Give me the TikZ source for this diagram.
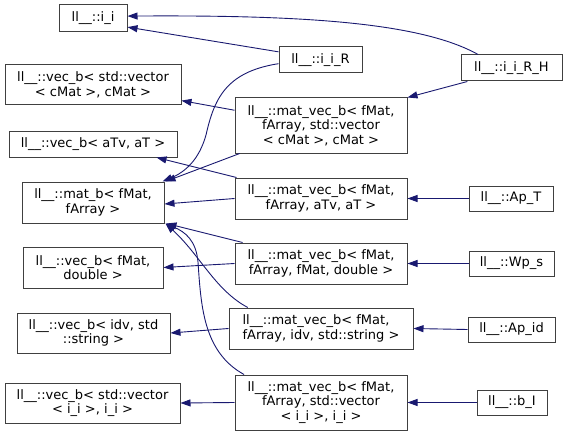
\documentclass[tikz,border=0pt]{standalone}
\usepackage{fontspec}
\setmainfont{DejaVu Sans}
\usetikzlibrary{arrows.meta}
\definecolor{edgecol}{RGB}{25,25,112}
\definecolor{boxcol}{RGB}{64,64,64}
\tikzset{
  cls/.style={draw=boxcol, line width=1pt, fill=white, align=center, inner sep=0pt,
    font=\fontsize{13}{14.5}\selectfont},
  edge/.style={draw=edgecol, line width=0.9pt, -{Triangle[length=10pt,width=7pt]}},
}
\begin{document}
\begin{tikzpicture}[x=1pt,y=-1pt]
\useasboundingbox (0,0) rectangle (568,436);
% left column
\node[cls, minimum width=68pt, minimum height=27pt] (ii) at (93,18.5) {ll\_\_::i\_i};
\node[cls, minimum width=176pt, minimum height=40pt] (vcm) at (93,85) {ll\_\_::vec\_b< std::vector\\< cMat >, cMat >};
\node[cls, minimum width=168pt, minimum height=26pt] (vat) at (93,144) {ll\_\_::vec\_b< aTv, aT >};
\node[cls, minimum width=142pt, minimum height=41pt] (mb) at (93,202.5) {ll\_\_::mat\_b< fMat,\\fArray >};
\node[cls, minimum width=140pt, minimum height=41pt] (vfd) at (93,267.5) {ll\_\_::vec\_b< fMat,\\double >};
\node[cls, minimum width=153pt, minimum height=40pt] (vid) at (93.5,333) {ll\_\_::vec\_b< idv, std\\::string >};
\node[cls, minimum width=175pt, minimum height=40pt] (vii) at (92.5,403) {ll\_\_::vec\_b< std::vector\\< i\_i >, i\_i >};
% middle column
\node[cls, minimum width=83pt, minimum height=26pt] (iiR) at (320.5,60) {ll\_\_::i\_i\_R};
\node[cls, minimum width=172pt, minimum height=55pt] (mcm) at (321,125.5) {ll\_\_::mat\_vec\_b< fMat,\\fArray, std::vector\hspace*{26pt}\\< cMat >, cMat >};
\node[cls, minimum width=172pt, minimum height=41pt] (mat) at (321,198.5) {ll\_\_::mat\_vec\_b< fMat,\\fArray, aTv, aT >};
\node[cls, minimum width=172pt, minimum height=41pt] (mfd) at (321,263.5) {ll\_\_::mat\_vec\_b< fMat,\\fArray, fMat, double >};
\node[cls, minimum width=184pt, minimum height=41pt] (mid) at (321,328.5) {ll\_\_::mat\_vec\_b< fMat,\hspace*{10pt}\\fArray, idv, std::string >};
\node[cls, minimum width=172pt, minimum height=55pt] (mii) at (321,402.5) {ll\_\_::mat\_vec\_b< fMat,\\fArray, std::vector\hspace*{20pt}\\< i\_i >, i\_i >};
% right column
\node[cls, minimum width=101pt, minimum height=26pt] (iiRH) at (511.5,68) {ll\_\_::i\_i\_R\_H};
\node[cls, minimum width=84pt, minimum height=25pt] (apt) at (511,198.5) {ll\_\_::Ap\_T};
\node[cls, minimum width=85pt, minimum height=25pt] (wps) at (511.5,263.5) {ll\_\_::Wp\_s};
\node[cls, minimum width=87pt, minimum height=25pt] (apid) at (511.5,329.5) {ll\_\_::Ap\_id};
\node[cls, minimum width=70pt, minimum height=25pt] (bi) at (512,402.5) {ll\_\_::b\_I};
% edges
\draw[edge] (iiR.169) -- (ii.-14);
\draw[edge] (iiRH.158) .. controls (420,22) and (300,15) .. (ii.4);
\draw[edge] (iiR.185) .. controls (225,72) and (214,100) .. (206,135) .. controls (199,160) and (185,172) .. ([xshift=-2pt]mb.north east);
\draw[edge] (mcm.170) -- (vcm.-10);
\draw[edge] (mcm.199) -- ([xshift=1pt]mb.north east);
\draw[edge] (iiRH.197) -- (mcm.north east);
\draw[edge] ([xshift=2pt]mat.north west) -- (vat.-12);
\draw[edge] (mat.west) -- ([yshift=-1.5pt]mb.east);
\draw[edge] (apt.west) -- (mat.east);
\draw[edge] (mfd.165) -- ([xshift=2pt]mb.south east);
\draw[edge] (mfd.west) -- (vfd.east);
\draw[edge] (wps.west) -- (mfd.east);
\draw[edge] (mid.164) .. controls (215,290) and (200,255) .. ([xshift=1pt]mb.south east);
\draw[edge] (mid.west) -- (vid.east);
\draw[edge] (apid.west) -- (mid.east);
\draw[edge] (mii.160) .. controls (203,352) and (201,305) .. (198,262) .. controls (196,240) and (185,232) .. ([xshift=1pt]mb.south east);
\draw[edge] (mii.west) -- (vii.east);
\draw[edge] (bi.west) -- (mii.east);
\end{tikzpicture}
\end{document}
